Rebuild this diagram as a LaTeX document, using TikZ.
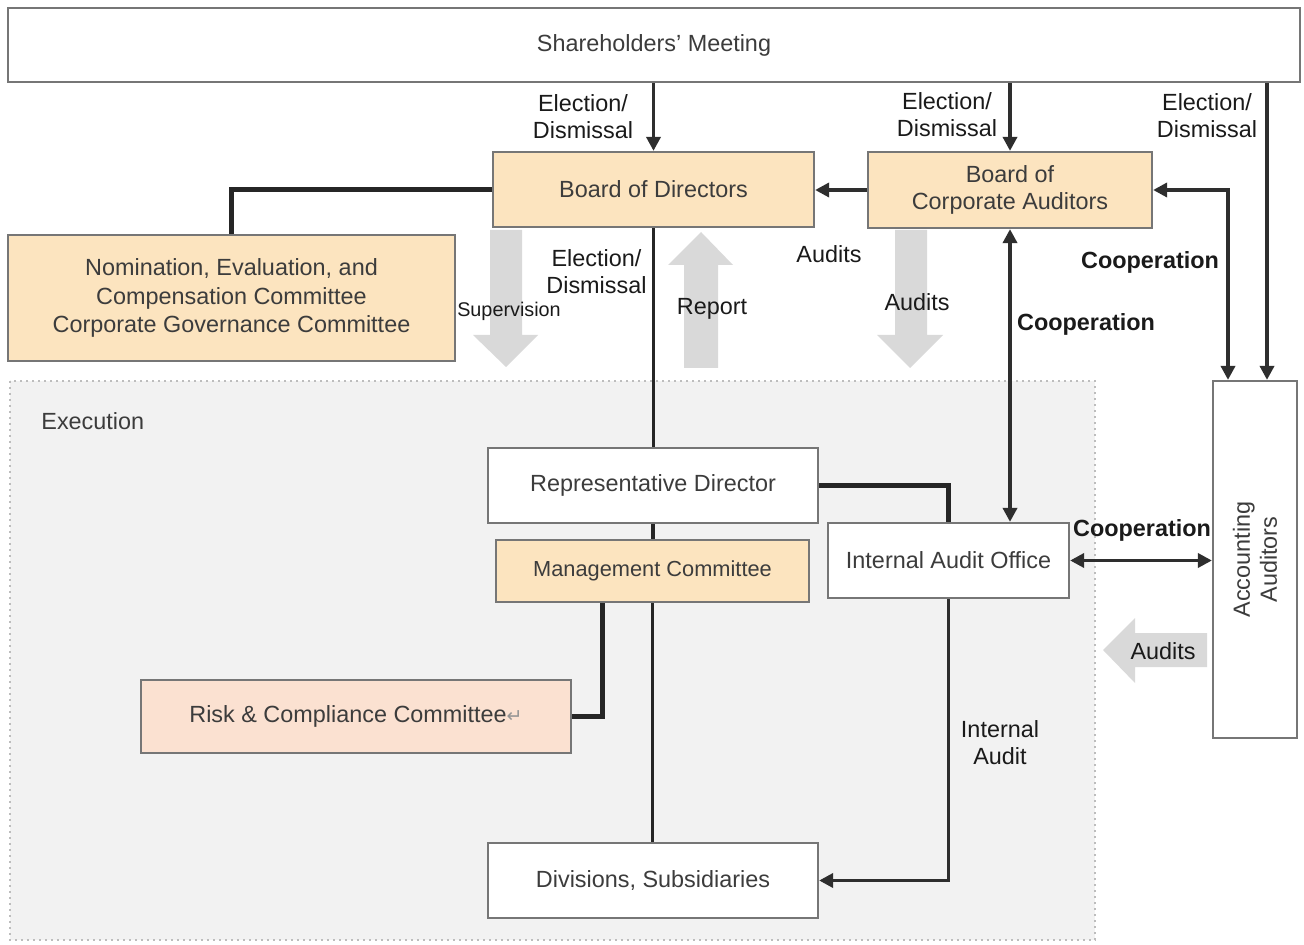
\documentclass[tikz,border=0pt]{standalone}
\usepackage{fontspec}
\setmainfont{Liberation Sans}
\newfontfamily\dejavu{DejaVu Sans}
\usetikzlibrary{arrows.meta,calc}
\definecolor{orng}{HTML}{FCE4BF}
\definecolor{peach}{HTML}{FBE1D1}
\definecolor{bordc}{HTML}{767676}
\definecolor{txtc}{HTML}{3C3C3C}
\definecolor{labc}{HTML}{1A1A1A}
\definecolor{arrc}{HTML}{2E2E2E}
\definecolor{bigarr}{HTML}{D9D9D9}
\definecolor{execbg}{HTML}{F2F2F2}
\definecolor{execbd}{HTML}{BDBDBD}
\tikzset{
  box/.style={draw=bordc, line width=1.1pt, inner sep=0pt, text=txtc, align=center,
    font=\fontsize{11.7}{13.6}\selectfont},
  obox/.style={box, fill=orng},
  wbox/.style={box, fill=white},
  lab/.style={text=labc, align=center, inner sep=0pt, font=\fontsize{11.7}{13.6}\selectfont},
  blab/.style={lab, font=\fontsize{11.7}{13.6}\selectfont\bfseries},
  arr/.style={draw=arrc, line width=1.8pt, -{Triangle[length=7pt,width=7pt]}},
  darr/.style={draw=arrc, line width=1.8pt, {Triangle[length=7pt,width=7pt]}-{Triangle[length=7pt,width=7pt]}},
  conn/.style={draw=black!85, line width=1.6pt},
  thickconn/.style={draw=black!85, line width=2.3pt},
  garrow/.style={fill=bigarr, draw=none}
}
\begin{document}
\begin{tikzpicture}[x=0.5pt,y=-0.5pt]
\useasboundingbox (0,0) rectangle (1304,945);
% execution area
\draw[fill=execbg, draw=execbd, line width=1pt, dotted] (10,381) rectangle (1095,940);
\node[lab, anchor=west, text=txtc] (exec) at (41,421) {Execution};

% big gray arrows
\fill[garrow] (490,230) -- (522,230) -- (522,335) -- (538,335) -- (506,367) -- (473,335) -- (490,335) -- cycle;
\fill[garrow] (684,368) -- (718,368) -- (718,265) -- (733,265) -- (701,232) -- (668,265) -- (684,265) -- cycle;
\fill[garrow] (895,230) -- (927,230) -- (927,335) -- (943,335) -- (910,368) -- (877,335) -- (895,335) -- cycle;
\fill[garrow] (1207,633) -- (1207,667) -- (1135,667) -- (1135,683) -- (1103,650) -- (1135,618) -- (1135,633) -- cycle;

% boxes
\node[wbox, minimum width=646pt, minimum height=37pt] (sh) at (654,45) {Shareholders' Meeting};
\node[obox, minimum width=160.5pt, minimum height=37.5pt] (bod) at (653.5,189.5) {Board of Directors};
\node[obox, minimum width=142pt, minimum height=38pt] (boca) at (1010,190) {Board of\\Corporate Auditors};
\node[obox, minimum width=223.5pt, minimum height=63pt, font=\fontsize{11.7}{14.2}\selectfont] (nom) at (231.5,298) {Nomination, Evaluation, and\\Compensation Committee\\Corporate Governance Committee};
\node[wbox, minimum width=165pt, minimum height=37.5pt] (rep) at (653,485.5) {Representative Director};
\node[obox, minimum width=156.5pt, minimum height=31pt, font=\fontsize{10.9}{13}\selectfont] (mc) at (652.5,571) {Management Committee};
\node[wbox, minimum width=120.5pt, minimum height=37.5pt] (iao) at (948.5,560.5) {Internal Audit Office};
\node[box, fill=peach, minimum width=215pt, minimum height=36.5pt] (risk) at (356,716.5) {Risk \& Compliance Committee{\dejavu\fontsize{9.5}{10}\selectfont\color{txtc!55}↵}};
\node[wbox, minimum width=165pt, minimum height=37.5pt] (div) at (653,880.5) {Divisions, Subsidiaries};
\node[wbox, minimum width=42pt, minimum height=178.5pt] (aa) at (1255,559.5) {};
\node[lab, text=txtc, rotate=90] (aatext) at (aa.center) {Accounting\\Auditors};

% connectors
\draw[arr] (bod.north |- sh.south) -- (bod.north);
\draw[arr] (boca.north |- sh.south) -- (boca.north);
\coordinate (aaA) at ($(aa.north)+(12,0)$);
\coordinate (aaB) at ($(aa.north)+(-27,0)$);
\draw[arr] (aaA |- sh.south) -- (aaA);
\draw[arr] (boca.west) -- (boca.west -| bod.east);
\draw[darr] (boca.east) -| (aaB);
\draw[darr] (boca.south) -- (boca.south |- iao.north);
\draw[thickconn] (bod.west) -| (nom.north);
\draw[conn] (bod.south) -- (bod.south |- rep.north);
\draw[thickconn] (rep.east) -| (iao.north);
\draw[conn] (rep.south) -- (rep.south |- mc.north);
\draw[conn] (mc.south) -- (mc.south |- div.north);
\coordinate (mcL) at ($(mc.south)+(-50,0)$);
\draw[thickconn] (mcL) |- (risk.east);
\draw[arr] (iao.south) |- (div.east);
\draw[darr] (iao.east) -- (iao.east -| aa.west);

% labels
\node[lab] (l1) at (583,117) {Election/\\Dismissal};
\node[lab] (l2) at (947,115) {Election/\\Dismissal};
\node[lab] (l3) at (1207,116) {Election/\\Dismissal};
\node[lab] (l4) at (596.5,272) {Election/\\Dismissal};
\node[lab] (l5) at (829,254) {Audits};
\node[blab] (l6) at (1150,262) {Cooperation};
\node[blab] (l7) at (1086,324) {Cooperation};
\node[lab, font=\fontsize{9.9}{11}\selectfont] (l8) at (509,311) {Supervision};
\node[lab] (l9) at (712,309) {Report};
\node[lab] (l10) at (917,302) {Audits};
\node[blab] (l11) at (1142,530) {Cooperation};
\node[lab] (l12) at (1000,743) {Internal\\Audit};
\node[lab] (l13) at (1163,651) {Audits};
\end{tikzpicture}
\end{document}
